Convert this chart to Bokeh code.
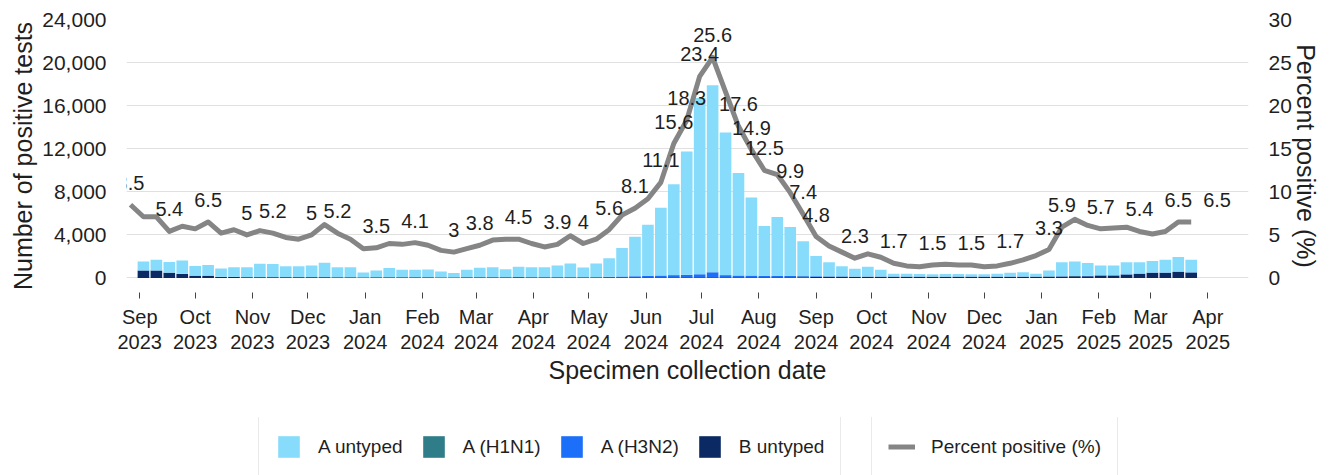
import pandas as pd
from bokeh.plotting import figure
from bokeh.layouts import column
from bokeh.models import (ColumnDataSource, Range1d, LinearAxis, FixedTicker,
                          NumeralTickFormatter, CustomJSTickFormatter, Legend, LegendItem)
from bokeh.core.properties import value
from bokeh.embed import file_html
from bokeh.resources import INLINE

FONT = "Liberation Sans"
TEXT = "#1f1f1f"

# weekly positive tests by type, weeks starting 2023-09-03
bar_start = "2023-09-03"
a_untyped = [
    830, 990, 980, 1210, 890, 990, 750, 870, 890, 1210,
    1210, 990, 990, 1060, 1330, 920, 910, 430, 620, 840,
    680, 690, 710, 530, 380, 675, 860, 920, 740, 940,
    920, 920, 1080, 1260, 890, 1240, 1710, 2650, 3660, 4740,
    6280, 8430, 11450, 16350, 17370, 13230, 9510, 7240, 4610, 5450,
    4530, 3240, 1870, 1310, 940, 720, 910, 620, 250, 250,
    220, 210, 230, 220, 200, 200, 250, 340, 380, 260,
    550, 1300, 1350, 1180, 900, 900, 1120, 1050, 1070, 1180,
    1340, 1150,
]
a_h1n1 = [
    10, 10, 10, 10, 10, 10, 10, 10, 10, 10,
    10, 10, 10, 10, 10, 10, 10, 10, 10, 10,
    10, 10, 10, 10, 10, 10, 10, 10, 10, 10,
    10, 10, 10, 10, 10, 10, 10, 10, 10, 10,
    10, 10, 10, 10, 10, 10, 10, 10, 10, 10,
    10, 10, 10, 10, 10, 10, 10, 10, 10, 10,
    10, 10, 10, 10, 10, 10, 10, 10, 10, 10,
    10, 10, 10, 10, 10, 10, 10, 10, 10, 10,
    10, 10,
]
a_h3n2 = [
    20, 20, 20, 20, 20, 20, 20, 20, 20, 20,
    20, 20, 20, 20, 20, 20, 20, 20, 20, 20,
    20, 20, 20, 20, 20, 20, 20, 20, 20, 20,
    20, 20, 20, 20, 20, 40, 50, 70, 90, 140,
    170, 200, 230, 280, 460, 200, 170, 150, 140, 140,
    130, 100, 70, 50, 40, 20, 20, 20, 20, 20,
    20, 20, 20, 20, 20, 20, 20, 20, 20, 20,
    20, 20, 20, 20, 20, 20, 20, 20, 20, 20,
    20, 20,
]
b_untyped = [
    680, 680, 470, 370, 190, 190, 90, 90, 70, 70,
    60, 60, 60, 60, 60, 50, 50, 40, 50, 50,
    50, 50, 50, 40, 40, 50, 50, 50, 50, 60,
    50, 50, 50, 50, 50, 50, 60, 60, 60, 60,
    60, 60, 60, 60, 60, 60, 60, 60, 60, 60,
    60, 70, 80, 90, 100, 100, 110, 110, 110, 110,
    110, 100, 100, 110, 110, 110, 110, 110, 110, 110,
    120, 140, 150, 170, 230, 230, 320, 390, 480, 480,
    570, 510,
]

# percent positive, weeks starting 2023-08-27
pct_start = "2023-08-27"
pct_positive = [
    8.5, 7.1, 7.1, 5.4, 6.0, 5.7, 6.5, 5.2, 5.6, 5.0,
    5.5, 5.2, 4.7, 4.5, 5.0, 6.2, 5.2, 4.5, 3.4, 3.5,
    4.0, 3.9, 4.1, 3.8, 3.2, 3.0, 3.4, 3.8, 4.4, 4.5,
    4.5, 4.0, 3.6, 3.9, 4.9, 4.0, 4.5, 5.6, 7.3, 8.1,
    9.2, 11.1, 15.6, 18.3, 23.4, 25.6, 21.6, 17.6, 14.9, 12.5,
    12.0, 9.9, 7.4, 4.8, 3.7, 3.0, 2.3, 2.8, 2.4, 1.7,
    1.4, 1.3, 1.5, 1.6, 1.5, 1.5, 1.3, 1.4, 1.7, 2.1,
    2.6, 3.3, 5.9, 6.8, 6.1, 5.7, 5.8, 5.9, 5.4, 5.1,
    5.4, 6.5, 6.5,
]

# data labels: week number (from pct_start) and value shown
label_weeks = [0, 3, 6, 9, 11, 14, 16, 19, 22, 25, 27, 30, 33, 35, 37, 39, 41, 42, 43,
               44, 45, 47, 48, 49, 51, 52, 53, 56, 59, 62, 65, 68, 71, 72, 75, 78, 81, 84]
label_values = [8.5, 5.4, 6.5, 5, 5.2, 5, 5.2, 3.5, 4.1, 3, 3.8, 4.5, 3.9, 4, 5.6, 8.1, 11.1, 15.6, 18.3,
                23.4, 25.6, 17.6, 14.9, 12.5, 9.9, 7.4, 4.8, 2.3, 1.7, 1.5, 1.5, 1.7, 3.3, 5.9, 5.7, 5.4, 6.5, 6.5]

month_ticks = pd.date_range("2023-09-01", "2025-04-01", freq="MS")
count_ticks = [0, 4000, 8000, 12000, 16000, 20000, 24000]
pct_ticks = [0, 5, 10, 15, 20, 25, 30]

series = ["b_untyped", "a_h3n2", "a_h1n1", "a_untyped"]
colors = ["#0b2a63", "#1b6ff8", "#2f7d88", "#88dcfb"]
names = ["B untyped", "A (H3N2)", "A (H1N1)", "A untyped"]
line_color = "#858585"


def ms(t):
    return pd.Timestamp(t).timestamp() * 1000


bar_dates = pd.date_range(bar_start, periods=len(a_untyped), freq="7D")
pct_dates = pd.date_range(pct_start, periods=len(pct_positive), freq="7D")
label_dates = [pd.Timestamp(pct_start) + pd.Timedelta(weeks=w) for w in label_weeks]

bar_src = ColumnDataSource(data=dict(date=bar_dates, a_untyped=a_untyped, a_h1n1=a_h1n1,
                                     a_h3n2=a_h3n2, b_untyped=b_untyped))
lab_src = ColumnDataSource(data=dict(date=label_dates, y=label_values,
                                     text=[f"{v:g}" for v in label_values]))

p = figure(width=1332, height=417, x_axis_type="datetime",
           x_range=Range1d(ms("2023-08-24 20:00"), ms("2025-04-23")),
           y_range=Range1d(-1350, 24000),
           output_backend="svg", toolbar_location=None,
           min_border_left=126, min_border_right=84, min_border_top=19, min_border_bottom=125)
p.extra_y_ranges = {"pct": Range1d(-1350 / 800, 30)}
p.outline_line_color = None

p.vbar_stack(series, x="date", width=6.3 * 86400000, fill_color=colors,
             line_color=None, source=bar_src)
p.line(pct_dates, pct_positive, y_range_name="pct", line_color=line_color,
       line_width=5, line_join="round")
p.text(x="date", y="y", text="text", source=lab_src, y_range_name="pct",
       text_align="center", text_baseline="middle", y_offset=-22,
       text_font=value(FONT), text_font_size="20px", text_color=TEXT)

# axes
xa = p.xaxis[0]
xa.ticker = FixedTicker(ticks=[ms(t) for t in month_ticks])
xa.formatter = CustomJSTickFormatter(code="""
const m = ["Jan","Feb","Mar","Apr","May","Jun","Jul","Aug","Sep","Oct","Nov","Dec"];
const d = new Date(tick);
return m[d.getUTCMonth()] + "\\n" + d.getUTCFullYear();
""")
xa.axis_line_color = None
xa.major_tick_line_color = "#444444"
xa.major_tick_in = 0
xa.major_tick_out = 6
xa.minor_tick_line_color = None
xa.major_label_standoff = 7
xa.major_label_text_font_size = "20px"
xa.major_label_text_line_height = 1.15
xa.axis_label = "Specimen collection date"
xa.axis_label_standoff = 0

ya = p.yaxis[0]
ya.ticker = FixedTicker(ticks=count_ticks)
ya.formatter = NumeralTickFormatter(format="0,0")
ya.major_label_standoff = 14
ya.axis_label = "Number of positive tests"
ya.axis_label_standoff = 2

ra = LinearAxis(y_range_name="pct", ticker=FixedTicker(ticks=pct_ticks))
ra.major_label_standoff = 14
ra.axis_label = "Percent positive (%)"
ra.axis_label_standoff = -3
p.add_layout(ra, "right")

for ax in (ya, ra):
    ax.axis_line_color = None
    ax.major_tick_line_color = None
    ax.minor_tick_line_color = None
    ax.major_label_text_font_size = "21px"
for ax in (xa, ya, ra):
    ax.major_label_text_font = FONT
    ax.major_label_text_color = TEXT
    ax.axis_label_text_font = FONT
    ax.axis_label_text_font_size = "25px"
    ax.axis_label_text_font_style = "normal"
    ax.axis_label_text_color = TEXT

p.xgrid.grid_line_color = None
p.ygrid.ticker = FixedTicker(ticks=count_ticks)
p.ygrid.grid_line_color = "#e0e0e0"

# legend strip below the chart (its frame is aligned with the chart frame, left edge x=126)
lg = figure(width=1332, height=58, x_range=Range1d(0, 1), y_range=Range1d(0, 1),
            x_axis_location=None, y_axis_location=None, min_border=0,
            output_backend="svg", toolbar_location=None)
lg.outline_line_color = None
lg.grid.visible = False
swatches = [lg.vbar(x=[0.5], top=[0], bottom=0, width=0.01, fill_color=c, line_color=None)
            for c in colors]
pct_swatch = lg.line(x=[0.5], y=[0.5], line_color=line_color, line_width=5)

legend_style = dict(orientation="horizontal", glyph_width=27, glyph_height=27,
                    label_standoff=16, spacing=17, padding=16, margin=0,
                    border_line_color="#d6d6d6", background_fill_color="white",
                    label_text_font=FONT, label_text_font_size="19px", label_text_color=TEXT)
leg1 = Legend(items=[LegendItem(label=names[i], renderers=[swatches[i]]) for i in (3, 2, 1, 0)],
              location=(132, -2), **legend_style)
leg2 = Legend(items=[LegendItem(label="Percent positive (%)", renderers=[pct_swatch])],
              location=(745, -2), **legend_style)
lg.add_layout(leg1)
lg.add_layout(leg2)

open("out.html", "w").write(file_html(column(p, lg), INLINE))
